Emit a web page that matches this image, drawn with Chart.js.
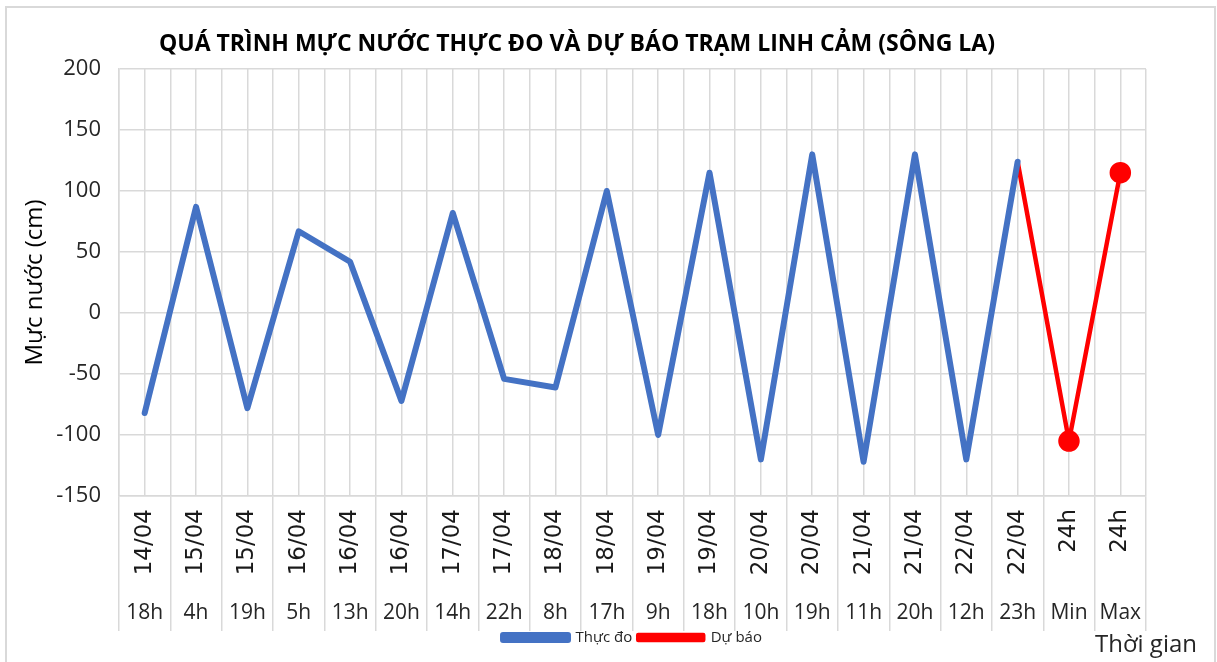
<!DOCTYPE html>
<html>
<head>
<meta charset="utf-8">
<script src="https://cdn.jsdelivr.net/npm/chart.js@4"></script>
<style>
  body { margin: 0; background: #fff; }
  #wrap { position: relative; width: 1217px; height: 662px; }
  #frame { position: absolute; left: 5px; top: 6px; width: 1207px; height: 700px;
           border: 2px solid #d9d9d9; pointer-events: none; }
</style>
</head>
<body>
<div id="wrap">
  <canvas id="chart" width="1217" height="662"></canvas>
  <div id="frame"></div>
</div>
<script>
// Category labels (two-level axis)
const dates = ['14/04', '15/04', '15/04', '16/04', '16/04', '16/04', '17/04', '17/04', '18/04', '18/04',
               '19/04', '19/04', '20/04', '20/04', '21/04', '21/04', '22/04', '22/04', '24h', '24h'];
const hours = ['18h', '4h', '19h', '5h', '13h', '20h', '14h', '22h', '8h', '17h',
               '9h', '18h', '10h', '19h', '11h', '20h', '12h', '23h', 'Min', 'Max'];

// Water level (cm)
const observed = [-82, 87, -78, 67, 42, -72, 82, -54, -61, 100,
                  -100, 115, -120, 130, -122, 130, -120, 124, null, null];
const forecast = [null, null, null, null, null, null, null, null, null, null,
                  null, null, null, null, null, null, null, 124, -105, 115];

const yTicks = [-150, -100, -50, 0, 50, 100, 150, 200];

const gridColor = '#d9d9d9';
const textColor = '#262626';

// "Thời gian" sits beside the legend, right under the last category
const axisCaption = {
    id: 'axisCaption',
    afterDraw(chart) {
        const ctx = chart.ctx;
        const x2 = chart.scales.x2;
        ctx.save();
        ctx.font = '24px "Open Sans"';
        ctx.fillStyle = textColor;
        ctx.textAlign = 'center';
        ctx.textBaseline = 'middle';
        ctx.fillText('Thời gian', chart.chartArea.right, x2.bottom + 21);
        ctx.restore();
    }
};

new Chart(document.getElementById('chart').getContext('2d'), {
    type: 'line',
    data: {
        labels: dates,
        datasets: [
            {
                label: 'Thực đo',
                data: observed,
                borderColor: '#4472c4',
                backgroundColor: '#4472c4',
                borderWidth: 6,
                borderJoinStyle: 'round',
                borderCapStyle: 'round',
                pointRadius: 0,
                tension: 0
            },
            {
                label: 'Dự báo',
                data: forecast,
                borderColor: '#ff0000',
                backgroundColor: '#ff0000',
                borderWidth: 4.5,
                borderJoinStyle: 'round',
                borderCapStyle: 'round',
                pointRadius: ctx => ctx.dataIndex > 17 ? 10 : 0,
                pointBackgroundColor: '#ff0000',
                pointBorderColor: '#ff0000',
                pointBorderWidth: 1.5,
                tension: 0
            }
        ]
    },
    options: {
        responsive: false,
        animation: false,
        layout: { padding: { left: 8, right: 71, top: 33, bottom: 7 } },
        plugins: {
            title: {
                display: true,
                text: 'QUÁ TRÌNH MỰC NƯỚC THỰC ĐO VÀ DỰ BÁO TRẠM LINH CẢM (SÔNG LA)',
                color: '#000',
                font: { family: '"Open Sans"', size: 23, weight: 'bold', lineHeight: 1 },
                padding: { top: 0, bottom: 13 }
            },
            legend: {
                position: 'bottom',
                fullSize: false,
                labels: {
                    color: textColor,
                    boxWidth: 65,
                    boxHeight: 5,
                    padding: 6,
                    font: { family: '"Open Sans"', size: 15 }
                }
            },
            tooltip: { enabled: false }
        },
        scales: {
            y: {
                min: -150,
                max: 200,
                afterBuildTicks: scale => { scale.ticks = yTicks.map(v => ({ value: v })); },
                afterFit: scale => { scale.width = 111; },
                grid: { color: gridColor, lineWidth: 1.5, drawTicks: false },
                border: { color: gridColor, width: 1.5 },
                ticks: {
                    color: textColor,
                    padding: 18,
                    font: { family: '"Open Sans"', size: 22 }
                },
                title: {
                    display: true,
                    text: 'Mực nước (cm)',
                    color: '#000',
                    font: { family: '"Open Sans"', size: 24 },
                    padding: { top: 13, bottom: 0 }
                }
            },
            x: {
                position: 'bottom',
                offset: true,
                afterFit: scale => { scale.height = 94; },
                grid: { color: gridColor, lineWidth: 1.5, offset: true, tickLength: 135 },
                border: { color: gridColor, width: 1.5 },
                ticks: {
                    color: '#1a1a1a',
                    minRotation: 90,
                    maxRotation: 90,
                    autoSkip: false,
                    padding: -122,
                    font: { family: '"DejaVu Sans"', size: 23 }
                }
            },
            x2: {
                type: 'category',
                position: 'bottom',
                labels: hours,
                offset: true,
                afterFit: scale => { scale.height = 34; },
                grid: { color: gridColor, lineWidth: 1.5, offset: false, drawTicks: false },
                border: { display: false },
                ticks: {
                    color: textColor,
                    maxRotation: 0,
                    autoSkip: false,
                    padding: 10,
                    font: { family: '"Open Sans"', size: 21 }
                }
            }
        }
    },
    plugins: [axisCaption]
});
</script>
</body>
</html>
